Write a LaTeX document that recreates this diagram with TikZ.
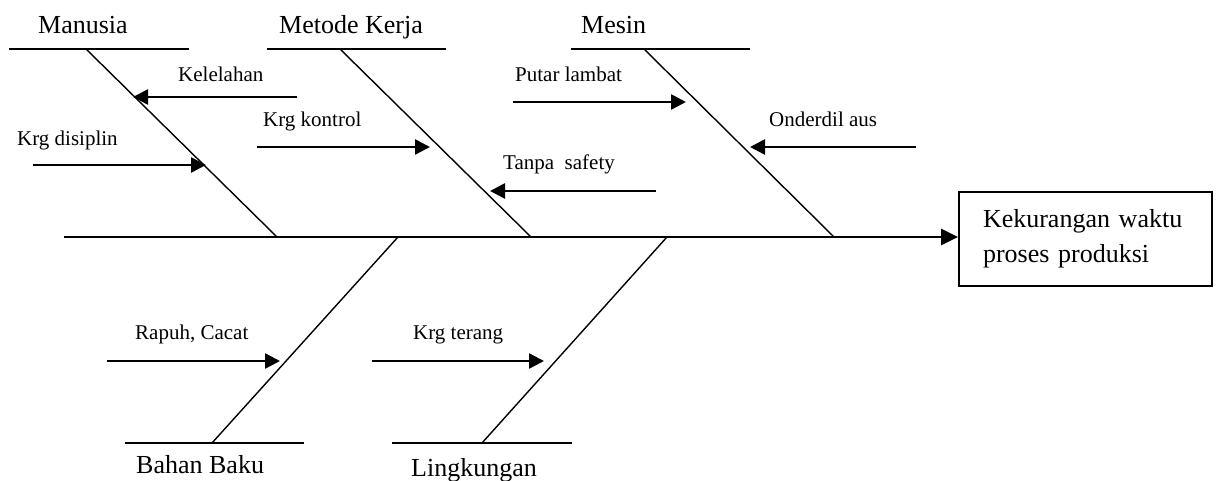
\documentclass[tikz,border=0pt]{standalone}
\usepackage{fontspec}
\setmainfont{Liberation Serif}
\usetikzlibrary{arrows.meta}
\newcommand{\CatFont}{\fontsize{26}{35}\selectfont}
\newcommand{\CauseFont}{\fontsize{21}{25}\selectfont}

\begin{document}
\begin{tikzpicture}[x=1pt,y=1pt,
  category/.style={anchor=base west,inner sep=0pt,font=\CatFont},
  cause/.style={anchor=base west,inner sep=0pt,font=\CauseFont},
  rib/.style={line width=2pt},
  bone/.style={line width=1.4pt},
  spine/.style={line width=2.6pt,-{Triangle[length=17pt,width=16pt]}},
  causearrow/.style={line width=2.6pt,-{Triangle[length=15pt,width=15pt]}}]
\useasboundingbox (0,0) rectangle (1216,481);

% effect box
\node[draw,line width=1.8pt,font=\CatFont,align=left,text width=205pt,
  inner xsep=24pt,minimum width=253pt,minimum height=94pt] (effect) at (1085.5,242)
  {Kekurangan waktu\\proses produksi};
\coordinate (tail) at (64,244);
\draw[spine] (tail) -- (tail -| effect.west);

% top bones
\coordinate (manusia-a) at (9,432);
\coordinate (manusia-b) at (189,432);
\coordinate (manusia-top) at (86,432);
\coordinate (manusia-foot) at (277,244);
\coordinate (metode-a) at (267,432);
\coordinate (metode-b) at (446,432);
\coordinate (metode-top) at (340,432);
\coordinate (metode-foot) at (531,244);
\coordinate (mesin-a) at (571,432);
\coordinate (mesin-b) at (750,432);
\coordinate (mesin-top) at (644,432);
\coordinate (mesin-foot) at (834,244);

% bottom bones
\coordinate (bahan-a) at (125,38);
\coordinate (bahan-b) at (304,38);
\coordinate (bahan-end) at (212,38);
\coordinate (bahan-foot) at (398,244);
\coordinate (lingk-a) at (392,38);
\coordinate (lingk-b) at (572,38);
\coordinate (lingk-end) at (482,38);
\coordinate (lingk-foot) at (667,244);

\draw[rib] (manusia-a) -- (manusia-b);
\draw[rib] (metode-a) -- (metode-b);
\draw[rib] (mesin-a) -- (mesin-b);
\draw[rib] (bahan-a) -- (bahan-b);
\draw[rib] (lingk-a) -- (lingk-b);
\draw[bone] (manusia-top) -- (manusia-foot);
\draw[bone] (metode-top) -- (metode-foot);
\draw[bone] (mesin-top) -- (mesin-foot);
\draw[bone] (bahan-end) -- (bahan-foot);
\draw[bone] (lingk-end) -- (lingk-foot);

% categories
\node[category] (manusia) at (38,447) {Manusia};
\node[category] (metode) at (279,447) {Metode Kerja};
\node[category] (mesin) at (581,447) {Mesin};
\node[category] (bahan) at (136,7) {Bahan Baku};
\node[category] (lingk) at (411,4) {Lingkungan};

% causes
\coordinate (kelelahan-s) at (297,384);
\coordinate (kelelahan-t) at (133,384);
\coordinate (disiplin-s) at (33,316);
\coordinate (disiplin-t) at (206,316);
\coordinate (kontrol-s) at (257,334);
\coordinate (kontrol-t) at (430,334);
\coordinate (safety-s) at (656,290);
\coordinate (safety-t) at (490,290);
\coordinate (lambat-s) at (513,379);
\coordinate (lambat-t) at (686,379);
\coordinate (aus-s) at (916,334);
\coordinate (aus-t) at (750,334);
\coordinate (rapuh-s) at (107,120);
\coordinate (rapuh-t) at (280,120);
\coordinate (terang-s) at (372,120);
\coordinate (terang-t) at (544,120);

\draw[causearrow] (kelelahan-s) -- (kelelahan-t);
\draw[causearrow] (disiplin-s) -- (disiplin-t);
\draw[causearrow] (kontrol-s) -- (kontrol-t);
\draw[causearrow] (safety-s) -- (safety-t);
\draw[causearrow] (lambat-s) -- (lambat-t);
\draw[causearrow] (aus-s) -- (aus-t);
\draw[causearrow] (rapuh-s) -- (rapuh-t);
\draw[causearrow] (terang-s) -- (terang-t);

\node[cause] (kelelahan) at (178,399) {Kelelahan};
\node[cause] (disiplin) at (17,335) {Krg disiplin};
\node[cause] (kontrol) at (263,354) {Krg kontrol};
\node[cause] (safety) at (503,311) {Tanpa\ \ safety};
\node[cause] (lambat) at (515,399) {Putar lambat};
\node[cause] (aus) at (769,354) {Onderdil aus};
\node[cause] (rapuh) at (135,141) {Rapuh, Cacat};
\node[cause] (terang) at (413,141) {Krg terang};
\end{tikzpicture}
\end{document}
